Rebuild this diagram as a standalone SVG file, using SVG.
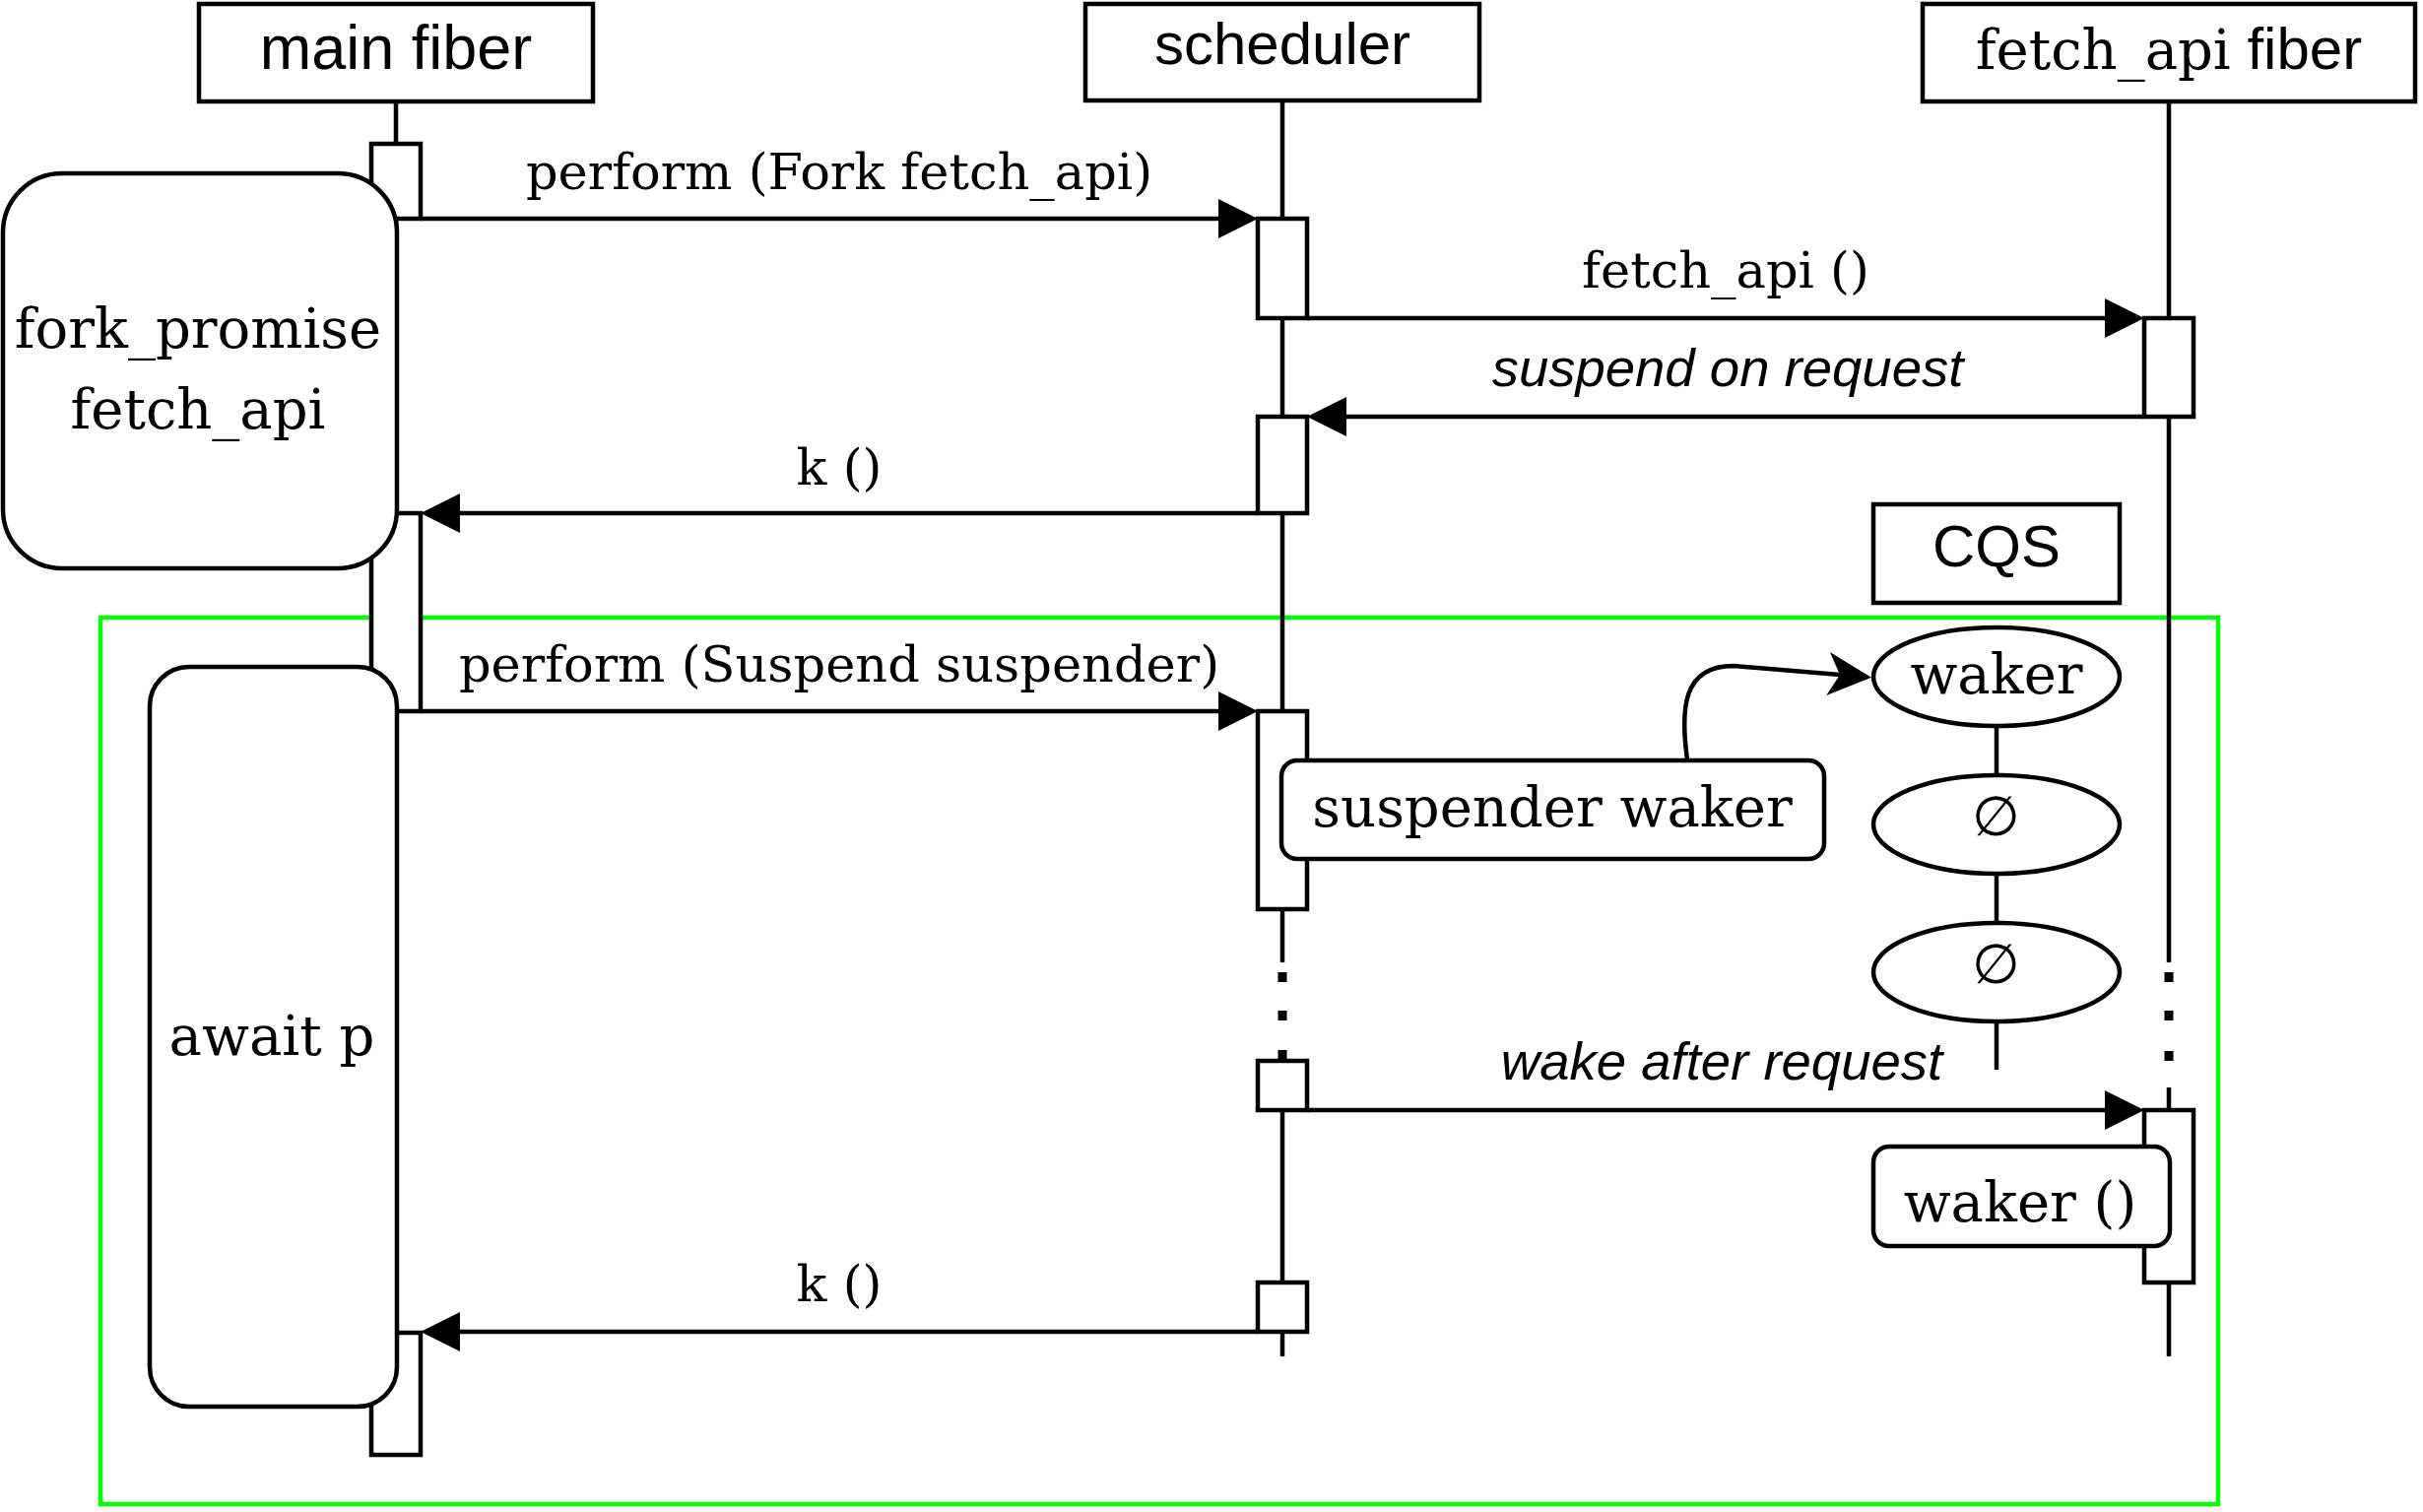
<svg xmlns="http://www.w3.org/2000/svg" width="2460" height="1535" viewBox="0 0 2460 1535">
<style>
  .ln { fill: none; stroke: #000; stroke-width: 4.5; }
  .box { fill: #fff; stroke: #000; stroke-width: 4.5; }
  .bar { fill: #fff; stroke: #000; stroke-width: 4.5; }
  .dot { fill: #000; }
  .sans { font-family: "Liberation Sans", Arial, sans-serif; font-size: 60px; fill: #000; }
  .serif { font-family: "DejaVu Serif", "Liberation Serif", serif; font-size: 56px; fill: #000; }
  .lbl { font-family: "DejaVu Serif", "Liberation Serif", serif; font-size: 51px; fill: #000; }
  .ital { font-family: "Liberation Sans", Arial, sans-serif; font-style: italic; font-size: 54.5px; fill: #000; }
  text { text-anchor: middle; }
</style>
<defs>
  <marker id="block" markerUnits="userSpaceOnUse" markerWidth="42" markerHeight="42" refX="0" refY="20" orient="auto" overflow="visible">
    <path d="M0,0 L40,20 L0,40 Z" fill="#000"/>
  </marker>
  <marker id="classic" markerUnits="userSpaceOnUse" markerWidth="46" markerHeight="46" refX="12" refY="22" orient="auto" overflow="visible">
    <path d="M0,0 L44,22 L0,44 L12,22 Z" fill="#000"/>
  </marker>
</defs>
<rect width="2460" height="1535" fill="#fff"/>

<g id="frame">
  <rect x="102" y="627" width="2150" height="900" fill="none" stroke="#00ff00" stroke-width="4.5"/>
</g>

<g id="lifelines">
  <path class="ln" d="M402,103 V1477"/>
  <path class="ln" d="M1302,102 V977 M1302,1077 V1377"/>
  <path class="ln" d="M2202,103 V977 M2202,1104 V1377"/>
  <rect class="dot" x="1297.5" y="987" width="9" height="10"/>
  <rect class="dot" x="1297.5" y="1026" width="9" height="10"/>
  <rect class="dot" x="1297.5" y="1066" width="9" height="11"/>
  <rect class="dot" x="2197.5" y="987" width="9" height="10"/>
  <rect class="dot" x="2197.5" y="1026" width="9" height="10"/>
  <rect class="dot" x="2197.5" y="1067" width="9" height="10"/>
</g>

<g id="main-fiber">
  <rect class="box" x="202" y="4" width="400" height="99"/>
  <text class="sans" x="402" y="70" style="font-size:63px">main fiber</text>
</g>
<g id="scheduler">
  <rect class="box" x="1102" y="4" width="400" height="98"/>
  <text class="sans" x="1302" y="65">scheduler</text>
</g>
<g id="fetch-api-fiber">
  <rect class="box" x="1952" y="4" width="500" height="99"/>
  <text x="2202" y="70"><tspan class="serif">fetch_api</tspan><tspan class="sans"> fiber</tspan></text>
</g>

<g id="activations">
  <rect class="bar" x="377" y="146" width="50" height="76"/>
  <rect class="bar" x="377" y="521" width="50" height="201"/>
  <rect class="bar" x="377" y="1353" width="50" height="124"/>
  <rect class="bar" x="1277" y="222" width="50" height="101"/>
  <rect class="bar" x="1277" y="423" width="50" height="98"/>
  <rect class="bar" x="1277" y="722" width="50" height="201"/>
  <rect class="bar" x="1277" y="1077" width="50" height="50"/>
  <rect class="bar" x="1277" y="1302" width="50" height="50"/>
  <rect class="bar" x="2177" y="323" width="50" height="100"/>
  <rect class="bar" x="2177" y="1127" width="50" height="175"/>
</g>

<g id="connectors">
  <path class="ln" d="M427,222 H1237" marker-end="url(#block)"/>
  <path class="ln" d="M1327,323 H2137" marker-end="url(#block)"/>
  <path class="ln" d="M2177,423 H1367" marker-end="url(#block)"/>
  <path class="ln" d="M1277,521 H467" marker-end="url(#block)"/>
  <path class="ln" d="M427,722 H1237" marker-end="url(#block)"/>
  <path class="ln" d="M1327,1127 H2137" marker-end="url(#block)"/>
  <path class="ln" d="M1277,1352 H467" marker-end="url(#block)"/>
  <path class="ln" d="M1713,771 C1706,720 1708,676 1760,676 L1868,685" marker-end="url(#classic)"/>
  <path class="ln" d="M2027,737 V787 M2027,887 V937 M2027,1037 V1086"/>
</g>

<g id="labels">
  <text class="lbl" x="852" y="192">perform (Fork fetch_api)</text>
  <text class="lbl" x="1752" y="292">fetch_api ()</text>
  <text class="ital" x="1754" y="392">suspend on request</text>
  <text class="lbl" x="852" y="492">k ()</text>
  <text class="lbl" x="852" y="692">perform (Suspend suspender)</text>
  <text class="ital" x="1748" y="1096">wake after request</text>
  <text class="lbl" x="852" y="1321">k ()</text>
</g>

<g id="fork-promise">
  <rect class="box" x="3" y="176" width="400" height="401" rx="60" ry="60"/>
  <text class="serif" x="201" y="353">fork_promise</text>
  <text class="serif" x="201" y="435">fetch_api</text>
</g>
<g id="await-p">
  <rect class="box" x="152" y="677" width="251" height="751" rx="40" ry="40"/>
  <text class="serif" x="276" y="1071">await p</text>
</g>
<g id="suspender-waker">
  <rect class="box" x="1301" y="772" width="551" height="100" rx="16" ry="16"/>
  <text class="serif" x="1576" y="839">suspender waker</text>
</g>
<g id="waker-call">
  <rect class="box" x="1902" y="1164" width="301" height="101" rx="16" ry="16"/>
  <text class="serif" x="2051" y="1240">waker ()</text>
</g>
<g id="cqs">
  <rect class="box" x="1902" y="512" width="250" height="100"/>
  <text class="sans" x="2027" y="575">CQS</text>
</g>
<g id="cqs-waker">
  <ellipse class="box" cx="2027" cy="687" rx="125" ry="50"/>
  <text class="serif" x="2027" y="704">waker</text>
</g>
<g id="cqs-empty-1">
  <ellipse class="box" cx="2027" cy="837" rx="125" ry="50"/>
  <text class="serif" x="2026" y="848">∅</text>
</g>
<g id="cqs-empty-2">
  <ellipse class="box" cx="2027" cy="987" rx="125" ry="50"/>
  <text class="serif" x="2026" y="998">∅</text>
</g>
</svg>
